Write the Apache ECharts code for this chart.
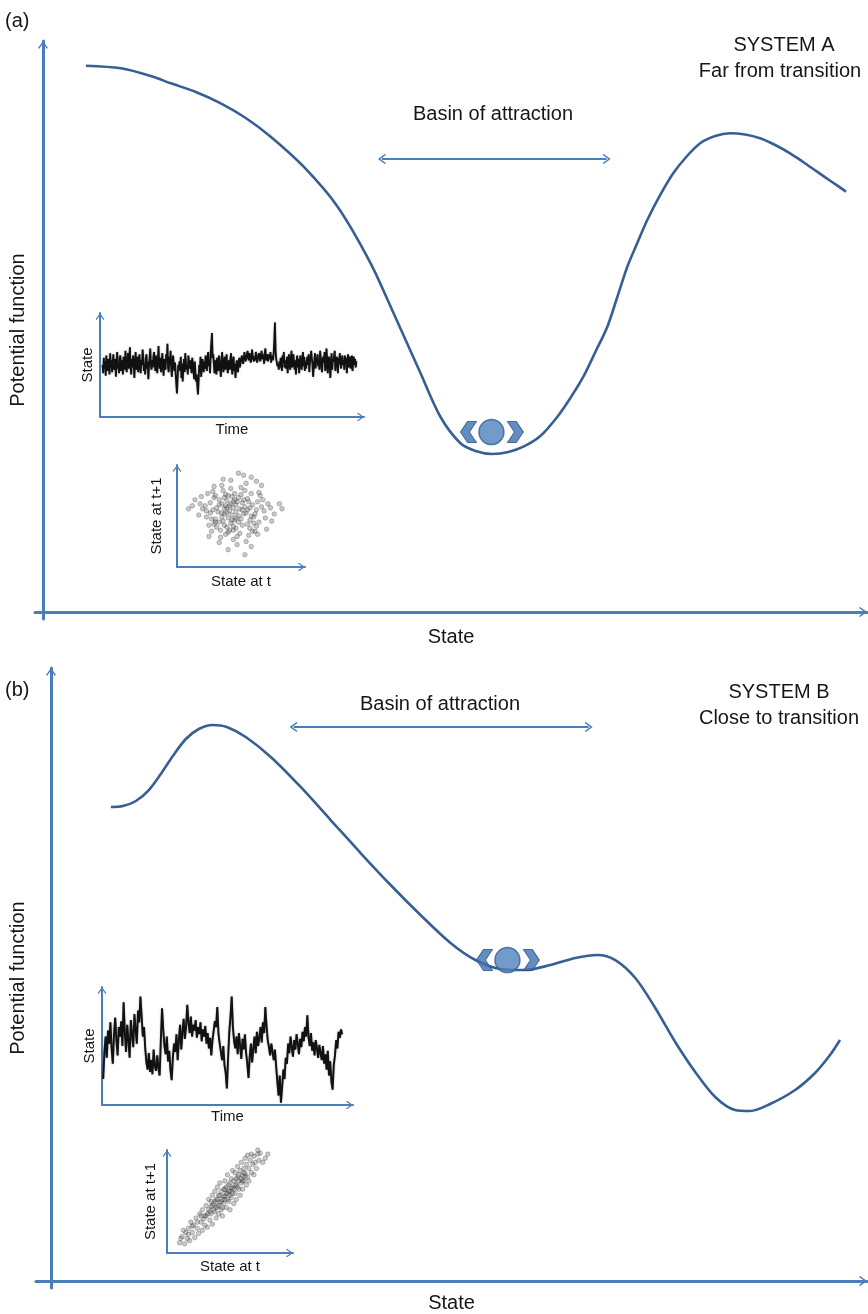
<!DOCTYPE html>
<html>
<head>
<meta charset="utf-8">
<script src="https://cdn.jsdelivr.net/npm/echarts@6/dist/echarts.min.js"></script>
<style>
html, body { margin: 0; padding: 0; background: #fff; }
#chart { width: 868px; height: 1314px; }
</style>
</head>
<body>
<div id="chart"></div>
<script>
// ---- Potential landscapes (state, potential), both on a 0-100 scale ----
const potentialA = [
  [6.12, 95.73], [10.32, 95.28], [13.93, 93.94], [16.33, 92.68], [19.33, 91.18], [22.33, 89.22],
  [25.33, 86.68], [28.33, 83.44], [32.29, 78.25], [36.37, 71.33], [40.34, 61.54], [43.10, 52.89],
  [46.34, 42.51], [48.74, 34.95], [51.14, 30.40], [52.94, 29.07], [54.98, 28.55], [56.90, 28.89],
  [58.70, 29.81], [60.74, 31.66], [62.79, 35.00], [64.35, 38.24], [65.91, 41.92], [67.35, 46.19],
  [68.79, 50.57], [69.99, 55.71], [71.19, 60.95], [72.39, 65.05], [73.59, 69.03], [75.15, 73.36],
  [76.71, 77.11], [78.27, 79.93], [79.95, 82.30], [81.75, 83.56], [83.55, 84.03], [85.35, 83.82],
  [87.15, 83.17], [88.96, 82.01], [90.76, 80.57], [92.32, 79.07], [94.00, 77.39], [95.80, 75.61],
  [97.48, 73.93]
];
const potentialB = [
  [9.01, 77.58], [10.46, 77.74], [12.02, 78.55], [13.58, 80.32], [15.02, 82.90], [16.47, 85.81],
  [18.03, 88.55], [19.59, 90.16], [21.27, 90.81], [22.96, 90.48], [25.24, 88.87], [28.25, 85.65],
  [31.85, 80.81], [35.46, 75.48], [39.06, 70.16], [42.67, 65.00], [46.27, 60.16], [49.88, 55.65],
  [52.88, 52.90], [55.89, 51.45], [58.89, 51.29], [61.90, 52.10], [64.90, 53.23], [67.55, 53.71],
  [69.71, 52.90], [72.12, 50.00], [74.52, 45.16], [76.92, 39.68], [79.33, 34.84], [81.73, 30.81],
  [84.13, 28.71], [85.94, 28.55], [88.34, 29.68], [91.35, 31.94], [93.75, 34.68], [95.55, 37.58],
  [96.75, 40.00]
];

// Ball resting in each basin
const ballA = [[54.86, 32.35]];
const ballB = [[56.73, 52.9]];

// Extent of each basin of attraction: [from, to, height]
const basinA = [41.7, 68.7, 79.6];
const basinB = [31.0, 66.5, 90.5];

// ---- Time series of the state ----
const seriesA = [
  52,45,58,49,55,43,60,51,47,57,53,44,62,50,56,46,54,61,48,53,
  57,42,55,63,49,52,45,58,60,47,51,56,44,59,53,48,64,50,46,55,
  62,49,54,67,51,44,57,50,60,53,41,55,63,48,52,59,46,54,61,50,
  45,56,52,65,58,47,53,44,57,61,49,55,40,51,58,66,52,48,56,50,
  59,63,54,47,60,51,45,56,68,53,49,58,46,55,62,50,43,57,53,48,
  61,55,70,50,46,59,52,64,49,42,56,60,51,47,54,44,36,28,41,52,
  49,55,47,59,41,53,38,50,57,46,62,55,48,52,44,60,54,49,56,51,
  45,58,53,47,40,55,46,38,44,35,27,39,52,46,59,42,50,57,51,46,
  55,49,60,53,47,58,63,51,56,45,62,70,79,58,61,53,45,56,50,44,
  58,52,47,60,54,49,42,57,63,51,46,55,59,48,53,61,50,45,56,52,
  48,57,62,50,44,55,59,47,53,41,49,56,52,46,55,58,50,54,57,60,
  60,53,57,63,62,55,58,61,64,58,56,62,59,54,57,65,60,61,55,59,
  56,63,60,54,57,59,62,58,55,60,64,57,61,59,53,62,66,56,58,61,
  55,58,61,57,63,54,60,59,56,62,72,88,64,57,56,51,53,48,55,50,
  58,52,47,60,54,63,50,56,49,53,59,45,55,61,52,48,57,64,50,54,
  61,53,48,56,44,55,60,50,57,45,52,60,54,48,56,63,51,59,47,55,
  49,56,59,52,61,46,55,58,64,57,53,42,50,56,62,49,58,54,61,51,
  55,48,64,58,52,46,57,59,54,63,47,50,66,58,45,52,59,55,41,51,
  62,48,57,55,60,64,47,53,59,56,45,58,53,62,54,49,57,60,52,56,
  48,60,53,58,45,55,61,50,56,59,49,54,60,47,55,59,52,57,50,55
];
const seriesB = [
  22,45,58,40,63,52,70,48,35,60,74,55,42,66,58,71,50,87,62,45,
  68,55,40,72,60,49,77,64,52,80,70,92,75,58,66,48,36,30,44,28,
  38,26,47,33,29,42,31,25,55,82,64,50,43,58,37,46,30,21,40,52,
  45,60,38,55,68,47,62,73,56,66,85,70,61,75,58,68,63,72,57,66,
  60,70,54,64,58,67,52,61,48,57,42,55,63,71,66,83,60,52,45,38,
  50,34,27,14,40,62,75,92,66,54,48,58,43,61,50,39,56,47,60,44,
  35,23,41,52,36,48,58,44,62,50,57,66,53,70,61,83,67,55,49,42,
  52,45,38,47,33,20,8,25,2,15,30,22,40,35,52,44,58,49,41,55,
  47,60,52,43,56,49,62,54,66,58,76,57,50,61,46,53,42,55,48,40,
  51,44,38,50,35,43,30,46,25,37,20,13,34,42,55,48,62,57,64,60
];

// ---- Lag plots: [state at t, state at t+1] ----
const lagA = [
  [41,55],[35,62],[48,50],[30,47],[52,66],[44,40],[38,71],[57,58],[26,53],[46,61],
  [33,44],[60,49],[40,34],[50,78],[22,60],[55,42],[37,52],[63,64],[29,68],[45,46],
  [42,85],[52,90],[18,62],[68,55],[34,36],[58,72],[47,30],[25,41],[39,65],[62,40],
  [31,58],[54,53],[43,69],[36,45],[49,57],[28,74],[59,35],[40,48],[65,70],[23,49],
  [46,38],[53,75],[32,54],[57,46],[38,60],[44,27],[66,59],[27,35],[51,63],[35,80],
  [61,52],[42,43],[48,68],[20,57],[56,31],[33,66],[71,62],[39,39],[45,72],[30,44],
  [64,44],[50,47],[37,57],[54,82],[24,72],[43,51],[59,61],[34,29],[47,64],[69,48],
  [28,56],[41,36],[55,67],[36,75],[62,56],[44,58],[31,39],[51,41],[40,70],[58,50],
  [26,63],[49,33],[67,66],[35,49],[53,59],[42,77],[29,42],[60,43],[46,54],[38,32],
  [73,58],[45,66],[33,61],[57,38],[41,60],[52,52],[23,55],[48,44],[64,73],[37,41],
  [55,56],[30,70],[43,46],[61,35],[39,58],[50,71],[27,47],[56,64],[44,36],[35,53],
  [14,66],[12,60],[80,62],[76,52],[47,22],[54,25],[58,20],[63,32],[70,37],[40,17],
  [53,12],[19,69],[25,30],[33,24],[66,80],[58,88],[48,92],[36,86],[29,79],[62,84],
  [74,45],[82,57],[9,57],[17,51],[44,64],[51,56],[39,53],[46,48],[42,62],[37,68]
];
const lagB = [
  [10,10],[12,16],[14,9],[13,22],[16,14],[17,24],[18,12],[19,30],[20,20],[21,27],
  [22,15],[23,34],[24,24],[25,19],[26,38],[27,30],[28,22],[28,42],[29,33],[30,27],
  [31,46],[31,36],[32,25],[33,42],[33,52],[34,32],[35,45],[35,38],[36,56],[36,28],
  [37,48],[38,40],[38,60],[39,34],[39,52],[40,45],[40,64],[41,38],[41,56],[42,49],
  [42,68],[43,42],[43,60],[44,52],[44,36],[45,62],[45,48],[46,70],[46,55],[47,44],
  [47,64],[48,58],[48,76],[49,50],[49,66],[50,42],[50,60],[51,72],[51,54],[52,80],
  [52,63],[53,48],[53,70],[54,58],[54,78],[55,66],[55,52],[56,74],[56,84],[57,62],
  [57,70],[58,56],[58,80],[59,68],[59,88],[60,75],[60,62],[61,82],[61,70],[62,92],
  [62,77],[63,66],[63,86],[64,74],[64,95],[65,82],[65,70],[66,90],[67,78],[67,96],
  [68,86],[69,76],[69,94],[70,88],[71,82],[72,96],[73,90],[74,97],[72,100],[80,96],
  [44,44],[46,62],[48,52],[50,68],[52,58],[54,66],[56,64],[42,56],[40,52],[38,50],
  [36,46],[34,40],[32,38],[30,36],[45,55],[47,58],[49,60],[51,63],[53,62],[55,72],
  [57,76],[59,72],[61,78],[43,50],[41,46],[39,44],[37,42],[35,50],[27,36],[24,30],
  [20,26],[17,18],[15,20],[11,14],[60,70],[62,74],[50,56],[46,52],[78,92],[76,88]
];

// ---- Text ----
const panelLabels = ['(a)', '(b)'];
const systemTitles = [['SYSTEM A', 'Far from transition'], ['SYSTEM B', 'Close to transition']];
const basinLabel = 'Basin of attraction';
const axisNames = { state: 'State', potential: 'Potential function', time: 'Time', lagX: 'State at t', lagY: 'State at t+1' };

// ---- Styling ----
const FONT = '"Liberation Sans", Arial, Helvetica, sans-serif';
const AXIS_BLUE = '#4a7ebb';
const CURVE_BLUE = '#365f93';
const TEXT = '#161616';
const openArrow = 'path://M5,0 L10,7 L9,8.2 L5,2.4 L1,8.2 L0,7 Z';
const chevronLeft = 'path://M7,0 L16,0 L9,10.5 L16,21 L7,21 L0,10.5 Z';
const chevronRight = 'path://M0,0 L9,0 L16,10.5 L9,21 L0,21 L7,10.5 Z';

function axis(gridIndex, opts) {
  const o = Object.assign({ width: 3, arrow: [10, 8], name: '', gap: 10, fontSize: 20, offset: 0, min: 0, max: 100 }, opts);
  return {
    type: 'value', gridIndex: gridIndex, min: o.min, max: o.max, offset: o.offset,
    name: o.name, nameLocation: 'middle', nameGap: o.gap,
    nameTextStyle: { fontFamily: FONT, fontSize: o.fontSize, color: TEXT },
    axisLine: {
      show: true, onZero: false,
      symbol: ['none', openArrow], symbolSize: o.arrow, symbolOffset: [0, -o.arrow[1] / 2],
      lineStyle: { color: AXIS_BLUE, width: o.width }
    },
    axisTick: { show: false }, axisLabel: { show: false }, splitLine: { show: false }
  };
}

function text(x, y, str, align, size) {
  return {
    type: 'text', x: x, y: y, silent: true,
    style: {
      text: str, fill: TEXT, fontSize: size || 20, fontFamily: FONT,
      align: align || 'center', verticalAlign: 'middle',
      textAlign: align || 'center', textVerticalAlign: 'middle'
    }
  };
}

function landscape(data, gridIdx, basin) {
  return {
    type: 'line', xAxisIndex: gridIdx, yAxisIndex: gridIdx, data: data,
    smooth: 0.3, showSymbol: false, silent: true, z: 3,
    lineStyle: { color: CURVE_BLUE, width: 2.6 },
    markLine: {
      silent: true, symbol: [openArrow, openArrow], symbolSize: [10, 8],
      label: { show: false }, emphasis: { disabled: true },
      lineStyle: { color: AXIS_BLUE, width: 2, type: 'solid' },
      data: [[{ coord: [basin[0], basin[2]] }, { coord: [basin[1], basin[2]] }]]
    }
  };
}

function ball(data, gridIdx) {
  const common = { type: 'scatter', xAxisIndex: gridIdx, yAxisIndex: gridIdx, data: data, silent: true, z: 4 };
  const chevronStyle = { color: '#3f6fb0', borderColor: '#2f5587', borderWidth: 1 };
  return [
    Object.assign({}, common, { symbol: 'circle', symbolSize: 25,
      itemStyle: { color: '#4f81bd', borderColor: '#36608f', borderWidth: 1.5 } }),
    Object.assign({}, common, { symbol: chevronLeft, symbolSize: [16, 21], symbolOffset: [-23, 0], itemStyle: chevronStyle }),
    Object.assign({}, common, { symbol: chevronRight, symbolSize: [16, 21], symbolOffset: [24, 0], itemStyle: chevronStyle })
  ];
}

function trace(values, gridIdx, width) {
  return {
    type: 'line', xAxisIndex: gridIdx, yAxisIndex: gridIdx,
    data: values.map((v, i) => [i, v]), showSymbol: false, silent: true,
    lineStyle: { color: '#111111', width: width, shadowBlur: 1.5, shadowColor: 'rgba(0,0,0,0.5)' }
  };
}

function lag(points, gridIdx) {
  return {
    type: 'scatter', xAxisIndex: gridIdx, yAxisIndex: gridIdx, data: points,
    symbolSize: 4.6, silent: true,
    itemStyle: { color: 'rgba(90,90,90,0.4)', borderColor: 'rgba(30,30,30,0.45)', borderWidth: 0.7 }
  };
}

const chart = echarts.init(document.getElementById('chart'), null, { renderer: 'canvas' });

chart.setOption({
  animation: false,
  backgroundColor: '#ffffff',
  grid: [
    { left: 34, top: 41, width: 833, height: 578 },   // 0: landscape A
    { left: 35, top: 668, width: 832, height: 620 },  // 1: landscape B
    { left: 100, top: 313, width: 264, height: 104 }, // 2: time series A
    { left: 177, top: 465, width: 128, height: 102 }, // 3: lag plot A
    { left: 102, top: 987, width: 251, height: 118 }, // 4: time series B
    { left: 167, top: 1150, width: 126, height: 103 } // 5: lag plot B
  ],
  xAxis: [
    axis(0, { name: axisNames.state, gap: 15, offset: -7 }),
    axis(1, { name: axisNames.state, gap: 12, offset: -7 }),
    axis(2, { name: axisNames.time, gap: 5, width: 2, arrow: [10, 7], fontSize: 15, min: -4, max: 411 }),
    axis(3, { name: axisNames.lagX, gap: 7, width: 2, arrow: [10, 7], fontSize: 15 }),
    axis(4, { name: axisNames.time, gap: 4, width: 2, arrow: [10, 7], fontSize: 15, min: -1, max: 208 }),
    axis(5, { name: axisNames.lagX, gap: 6, width: 2, arrow: [10, 7], fontSize: 15 })
  ],
  yAxis: [
    axis(0, { name: axisNames.potential, gap: 15, offset: -8 }),
    axis(1, { name: axisNames.potential, gap: 23, offset: -15 }),
    axis(2, { name: axisNames.state, gap: 5, width: 2, arrow: [10, 7], fontSize: 15, min: 8, max: 96 }),
    axis(3, { name: axisNames.lagY, gap: 13, width: 2, arrow: [10, 7], fontSize: 15 }),
    axis(4, { name: axisNames.state, gap: 5, width: 2, arrow: [10, 7], fontSize: 15 }),
    axis(5, { name: axisNames.lagY, gap: 9, width: 2, arrow: [10, 7], fontSize: 15 })
  ],
  series: [
    landscape(potentialA, 0, basinA),
    landscape(potentialB, 1, basinB),
    ...ball(ballA, 0),
    ...ball(ballB, 1),
    trace(seriesA, 2, 1.8),
    lag(lagA, 3),
    trace(seriesB, 4, 1.9),
    lag(lagB, 5)
  ],
  graphic: [
    text(5, 21, panelLabels[0], 'left'),
    text(784, 45, systemTitles[0][0]),
    text(780, 71, systemTitles[0][1]),
    text(493, 114, basinLabel),
    text(5, 690, panelLabels[1], 'left'),
    text(779, 692, systemTitles[1][0]),
    text(779, 718, systemTitles[1][1]),
    text(440, 704, basinLabel)
  ]
});
</script>
</body>
</html>
